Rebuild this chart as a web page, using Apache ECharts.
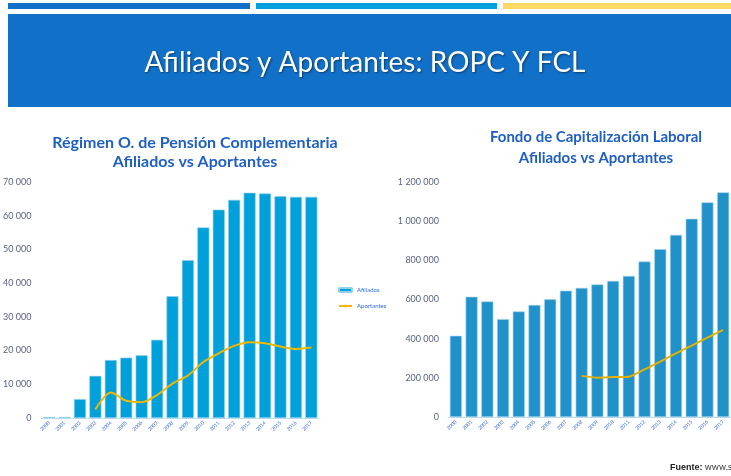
<!DOCTYPE html>
<html>
<head>
    <meta charset="utf-8"/>
    <title>Afiliados y Aportantes</title>
    <style>
        html, body { margin: 0; padding: 0; background: #fff; }
    </style>
</head>
<body>

<div id="main" style="width: 731px;height:476px;"></div>

<script src="https://cdn.jsdelivr.net/npm/echarts@6/dist/echarts.min.js"></script>

<script>
    // categorias (ilegibles en la imagen, etiquetas diminutas giradas)
    var periodos = ['2000', '2001', '2002', '2003', '2004', '2005', '2006', '2007', '2008',
        '2009', '2010', '2011', '2012', '2013', '2014', '2015', '2016', '2017'];

    // ROPC
    var ropcAfiliados = [300, 300, 5600, 12500, 17200, 17900, 18600, 23200, 36100,
        46800, 56500, 61800, 64700, 66800, 66600, 65800, 65600, 65600];
    var ropcAportantes = [null, null, null, 2500, 7600, 5100, 4700, 6800, 10200,
        12600, 16600, 19200, 21400, 22500, 22200, 21200, 20500, 20900];

    // FCL
    var fclAfiliados = [415000, 614000, 590000, 500000, 539000, 572000, 601000, 645000, 659000,
        677000, 695000, 720000, 794000, 857000, 930000, 1012000, 1096000, 1147000];
    var fclAportantes = [null, null, null, null, null, null, null, null, 210000,
        201000, 204000, 206000, 243000, 283000, 325000, 365000, 405000, 445000];

    var myChart = echarts.init(document.getElementById('main'));

    function fmt(v) {
        return String(v).replace(/\B(?=(\d{3})+(?!\d))/g, ' ');
    }

    var xAxisBase = {
        type: 'category',
        data: periodos,
        axisLine: {lineStyle: {color: '#bcdcf0', width: 1}},
        axisTick: {show: false},
        axisLabel: {rotate: 45, fontSize: 5, color: '#3d6fe0', margin: 4, interval: 0}
    };
    function yAxisBase(margin) {
        return {
            type: 'value',
            splitLine: {show: false},
            axisLine: {show: false},
            axisTick: {show: false},
            axisLabel: {fontSize: 9, color: '#5a6482', fontFamily: 'Lato', margin: margin, formatter: fmt}
        };
    }

    var option = {
        animation: false,
        textStyle: {fontFamily: 'Lato'},
        graphic: [
            {type: 'rect', shape: {x: 8, y: 3, width: 242, height: 6}, style: {fill: '#1170c8'}},
            {type: 'rect', shape: {x: 256, y: 3, width: 241, height: 6}, style: {fill: '#00a0dc'}},
            {type: 'rect', shape: {x: 503, y: 3, width: 228, height: 6}, style: {fill: '#ffd966'}},
            {type: 'rect', shape: {x: 8, y: 14, width: 723, height: 93}, style: {fill: '#1170c8'}},
            {
                type: 'text', x: 365, y: 63,
                style: {
                    text: 'Afiliados y Aportantes: ROPC Y FCL',
                    fill: '#ffffff', fontSize: 28, fontFamily: 'Lato',
                    align: 'center', verticalAlign: 'middle',
                    textShadowColor: 'rgba(0,0,0,0.45)', textShadowBlur: 2,
                    textShadowOffsetX: 1, textShadowOffsetY: 1
                }
            },
            {
                type: 'text', left: 670, top: 463,
                style: {
                    text: '{b|Fuente:} www.supen.fi.cr',
                    rich: {b: {fontWeight: 'bold', fontSize: 9, fill: '#222'}},
                    fill: '#333', fontSize: 9, fontFamily: 'Lato'
                }
            }
        ],
        title: [
            {
                text: 'Régimen O. de Pensión Complementaria\nAfiliados vs Aportantes',
                left: 190, top: 128, textAlign: 'center',
                textStyle: {fontSize: 16, fontWeight: 'bold', color: '#1f5fc4', lineHeight: 19, fontFamily: 'Lato'}
            },
            {
                text: 'Fondo de Capitalización Laboral\nAfiliados vs Aportantes',
                left: 591, top: 122, textAlign: 'center',
                textStyle: {fontSize: 15, fontWeight: 'bold', color: '#1f5fc4', lineHeight: 21, fontFamily: 'Lato'}
            }
        ],
        legend: {
            data: [
                {name: 'Afiliados', icon: 'roundRect'},
                {name: 'Aportantes'}
            ],
            orient: 'vertical',
            left: 333, top: 282,
            itemWidth: 13, itemHeight: 4, itemGap: 10,
            textStyle: {fontSize: 6, color: '#2f6fe0', fontFamily: 'Lato'}
        },
        grid: [
            {left: 31, top: 182, width: 288, height: 236},
            {left: 448, top: 182, width: 290, height: 235}
        ],
        xAxis: [
            Object.assign({gridIndex: 0}, xAxisBase),
            Object.assign({gridIndex: 1}, xAxisBase)
        ],
        yAxis: [
            Object.assign({gridIndex: 0, min: 0, max: 70000, interval: 10000}, yAxisBase(10)),
            Object.assign({gridIndex: 1, min: 0, max: 1200000, interval: 200000}, yAxisBase(9))
        ],
        series: [
            {
                name: 'Afiliados', type: 'bar', xAxisIndex: 0, yAxisIndex: 0,
                data: ropcAfiliados, barWidth: 12,
                itemStyle: {color: '#00a0da', borderColor: '#8fd0ee', borderWidth: 0.6}
            },
            {
                name: 'Aportantes', type: 'line', xAxisIndex: 0, yAxisIndex: 0,
                data: ropcAportantes, smooth: 0.3, symbol: 'none',
                lineStyle: {color: '#f0b800', width: 2},
                itemStyle: {color: '#f0b800'}
            },
            {
                name: 'Afiliados', type: 'bar', xAxisIndex: 1, yAxisIndex: 1,
                data: fclAfiliados, barWidth: 12,
                itemStyle: {color: '#2192c9', borderColor: '#9fd2ec', borderWidth: 0.6}
            },
            {
                name: 'Aportantes', type: 'line', xAxisIndex: 1, yAxisIndex: 1,
                data: fclAportantes, smooth: 0.2, symbol: 'none',
                lineStyle: {color: '#e9b000', width: 2},
                itemStyle: {color: '#e9b000'}
            }
        ]
    };

    myChart.setOption(option);
</script>
</body>
</html>
